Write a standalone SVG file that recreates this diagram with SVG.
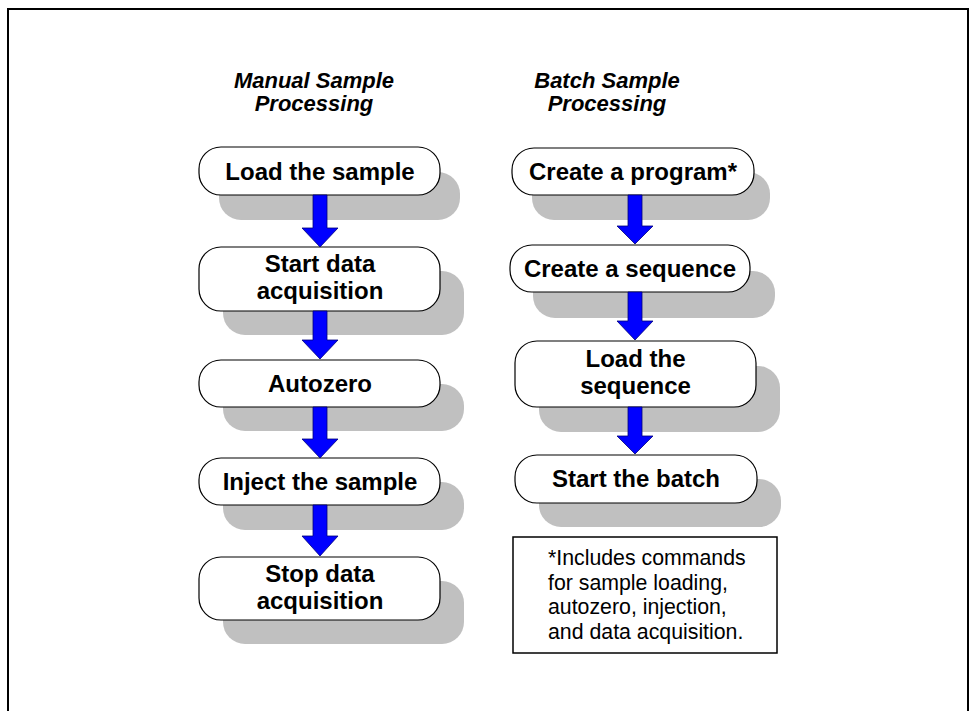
<svg xmlns="http://www.w3.org/2000/svg" width="972" height="711" viewBox="0 0 972 711">
<style>
.shadow{fill:#c0c0c0;stroke:none}
.box{fill:#ffffff;stroke:#000000;stroke-width:1.2}
.lbl{font-family:"Liberation Sans",Arial,sans-serif;font-weight:bold;font-size:24px;fill:#000;text-anchor:middle}
.title{font-family:"Liberation Sans",Arial,sans-serif;font-weight:bold;font-style:italic;font-size:22px;fill:#000;text-anchor:middle}
.note{font-family:"Liberation Sans",Arial,sans-serif;font-size:21.3px;fill:#000}
.arrow{fill:#0000ff;stroke:#00007a;stroke-width:0.8}
</style>
<rect width="972" height="711" fill="#ffffff"/>
<rect x="8" y="9" width="960" height="720" fill="none" stroke="#000" stroke-width="2"/>

<g id="title-manual">
<text class="title" x="314" y="88">Manual Sample</text>
<text class="title" x="314" y="111">Processing</text>
</g>
<g id="title-batch">
<text class="title" x="607" y="88">Batch Sample</text>
<text class="title" x="607" y="111">Processing</text>
</g>

<g id="n-load-sample">
<rect class="shadow" x="219" y="172" width="241" height="48" rx="22"/>
<rect class="box" x="199" y="147" width="241" height="48" rx="22"/>
<text class="lbl" x="320" y="180">Load the sample</text>
</g>
<g id="n-start-acq">
<rect class="shadow" x="223" y="271" width="241" height="64" rx="22"/>
<rect class="box" x="199" y="247" width="241" height="64" rx="22"/>
<text class="lbl" x="320" y="272">Start data</text>
<text class="lbl" x="320" y="299">acquisition</text>
</g>
<g id="n-autozero">
<rect class="shadow" x="223" y="384" width="241" height="47" rx="22"/>
<rect class="box" x="199" y="360" width="241" height="47" rx="22"/>
<text class="lbl" x="320" y="392">Autozero</text>
</g>
<g id="n-inject">
<rect class="shadow" x="223" y="482" width="241" height="48" rx="22"/>
<rect class="box" x="199" y="458" width="241" height="47" rx="22"/>
<text class="lbl" x="320" y="490">Inject the sample</text>
</g>
<g id="n-stop-acq">
<rect class="shadow" x="223" y="581" width="241" height="63" rx="22"/>
<rect class="box" x="199" y="557" width="241" height="63" rx="22"/>
<text class="lbl" x="320" y="582">Stop data</text>
<text class="lbl" x="320" y="609">acquisition</text>
</g>

<g id="n-create-program">
<rect class="shadow" x="532" y="172" width="238" height="48" rx="22"/>
<rect class="box" x="512" y="148" width="242" height="47" rx="22"/>
<text class="lbl" x="633" y="180">Create a program*</text>
</g>
<g id="n-create-sequence">
<rect class="shadow" x="533" y="271" width="242" height="47" rx="22"/>
<rect class="box" x="510" y="245" width="240" height="47" rx="22"/>
<text class="lbl" x="630" y="277">Create a sequence</text>
</g>
<g id="n-load-sequence">
<rect class="shadow" x="539" y="366" width="241" height="66" rx="22"/>
<rect class="box" x="515" y="341" width="241" height="66" rx="22"/>
<text class="lbl" x="635.5" y="367">Load the</text>
<text class="lbl" x="635.5" y="394">sequence</text>
</g>
<g id="n-start-batch">
<rect class="shadow" x="539" y="479" width="242" height="48" rx="22"/>
<rect class="box" x="515" y="455" width="242" height="48" rx="22"/>
<text class="lbl" x="636" y="487">Start the batch</text>
</g>

<g id="n-footnote">
<rect x="513" y="537" width="264" height="116" fill="#fff" stroke="#000" stroke-width="1.5"/>
<text class="note" x="548" y="565">*Includes commands</text>
<text class="note" x="548" y="589.5">for sample loading,</text>
<text class="note" x="548" y="614">autozero, injection,</text>
<text class="note" x="548" y="638.5">and data acquisition.</text>
</g>

<g id="connectors">
<polygon class="arrow" points="313,195 327,195 327,228 338,228 320,247 302,228 313,228"/>
<polygon class="arrow" points="313,311 327,311 327,340 338,340 320,359 302,340 313,340"/>
<polygon class="arrow" points="313,407 327,407 327,439 338,439 320,458 302,439 313,439"/>
<polygon class="arrow" points="313,505 327,505 327,536 338,536 320,556 302,536 313,536"/>
<polygon class="arrow" points="628,195 642,195 642,226 653,226 635,244 617,226 628,226"/>
<polygon class="arrow" points="628,292 642,292 642,321 653,321 635,340 617,321 628,321"/>
<polygon class="arrow" points="628,407 642,407 642,436 653,436 635,454 617,436 628,436"/>
</g>
</svg>
